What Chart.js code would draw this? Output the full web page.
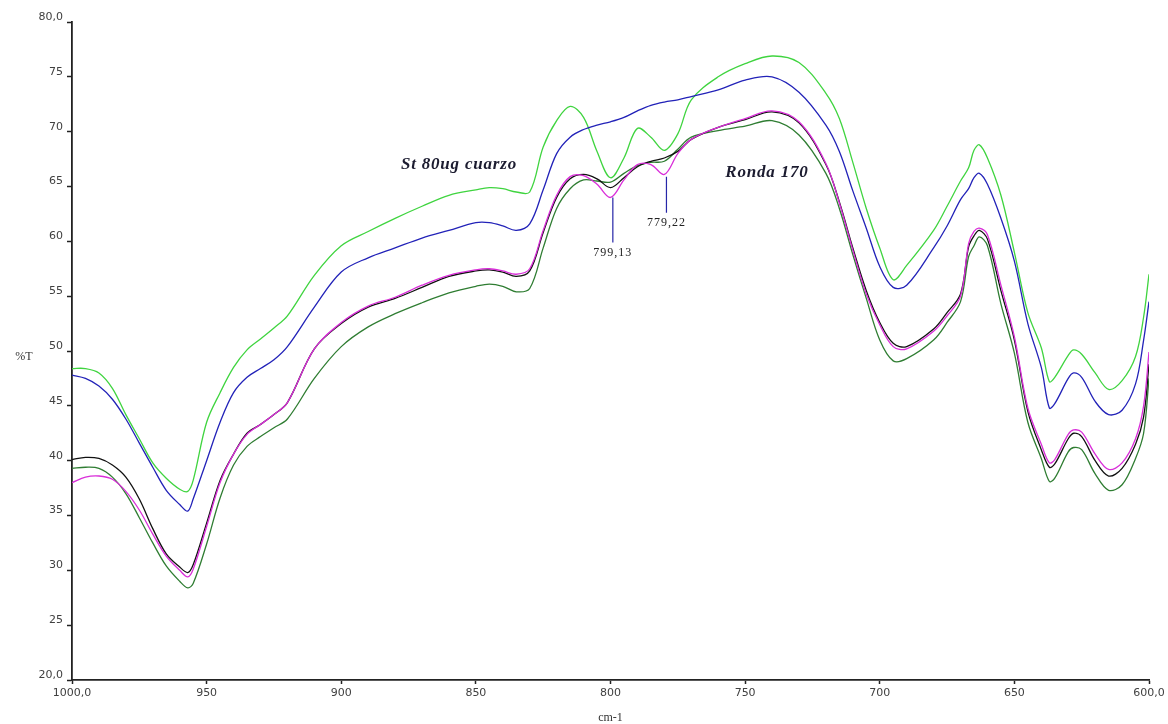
<!DOCTYPE html>
<html>
<head>
<meta charset="utf-8">
<title>%T vs cm-1</title>
<script src="https://cdn.jsdelivr.net/npm/chart.js@4.4.1/dist/chart.umd.min.js"></script>
<style>
  html, body { margin: 0; padding: 0; background: #fff; }
  #wrap { width: 1168px; height: 724px; position: relative; }
</style>
</head>
<body>
<div id="wrap"><canvas id="spectrumChart"></canvas></div>
<script>
const wavenumbers = [1000, 995, 990, 985, 980, 975, 970, 965, 960, 957, 955, 950, 945, 940, 935, 930, 925, 920, 910, 900,
  890, 880, 870, 860, 850, 845, 840, 835, 830, 825, 820, 815, 810, 805, 800, 795, 790, 785, 780, 775,
  770, 760, 750, 740, 730, 720, 715, 710, 705, 700, 695, 690, 680, 675,
  670, 667, 665, 663, 660, 655, 650, 645, 640, 637, 635, 630, 628, 625, 620, 615, 610, 605, 602, 600];

// %T series
const lightGreen = [48.4, 48.4, 48.0, 46.6, 44.2, 42.0, 39.8, 38.4, 37.4, 37.2, 38.2, 43.5, 46.2, 48.5, 50.1, 51.1, 52.1, 53.2, 56.9, 59.6,
  60.9, 62.1, 63.2, 64.2, 64.7, 64.9, 64.8, 64.5, 64.5, 68.6, 71.0, 72.3, 71.3, 68.2, 65.8, 67.6, 70.3, 69.5, 68.3, 69.8,
  72.9, 75.0, 76.2, 76.9, 76.3, 73.5, 71.2, 67.2, 63.0, 59.4, 56.5, 57.8, 61.0, 63.2,
  65.5, 66.7, 68.3, 68.8, 67.6, 64.2, 59.0, 53.5, 50.3, 47.2, 47.6, 49.6, 50.1, 49.7, 48.0, 46.5, 47.3, 49.5, 53.1, 57.0];

const blue = [47.8, 47.5, 46.8, 45.6, 43.8, 41.6, 39.4, 37.3, 36.0, 35.4, 36.5, 40.0, 43.5, 46.2, 47.6, 48.4, 49.2, 50.4, 54.0, 57.2,
  58.5, 59.4, 60.3, 61.0, 61.7, 61.7, 61.4, 61.0, 61.6, 64.7, 68.0, 69.5, 70.2, 70.6, 70.9, 71.3, 71.9, 72.4, 72.7, 72.9,
  73.2, 73.8, 74.7, 75.0, 73.6, 70.6, 68.2, 64.6, 61.2, 57.7, 55.8, 56.0, 59.4, 61.4,
  63.8, 64.8, 65.8, 66.2, 65.2, 62.1, 58.2, 52.5, 48.5, 44.8, 45.2, 47.5, 48.0, 47.6, 45.4, 44.2, 44.6, 47.0, 51.0, 54.5];

const black = [40.1, 40.3, 40.2, 39.6, 38.5, 36.5, 33.8, 31.5, 30.3, 29.8, 30.5, 34.3, 38.2, 40.6, 42.5, 43.3, 44.2, 45.3, 50.2, 52.5,
  54.0, 54.8, 55.8, 56.8, 57.3, 57.4, 57.2, 56.8, 57.3, 60.8, 64.0, 65.7, 66.1, 65.7, 64.9, 65.8, 66.8, 67.3, 67.6, 68.2,
  69.3, 70.4, 71.1, 71.8, 70.8, 67.0, 63.6, 59.4, 55.5, 52.6, 50.7, 50.4, 52.0, 53.5,
  55.2, 59.5, 60.5, 61.0, 60.2, 55.5, 51.0, 44.5, 41.0, 39.4, 39.7, 42.0, 42.5, 42.2, 40.0, 38.6, 39.3, 41.5, 44.0, 48.8];

const magenta = [38.0, 38.5, 38.6, 38.3, 37.2, 35.5, 33.3, 31.3, 30.0, 29.4, 30.1, 34.0, 38.0, 40.6, 42.4, 43.3, 44.2, 45.3, 50.2, 52.6,
  54.1, 54.9, 56.0, 56.9, 57.4, 57.5, 57.3, 57.0, 57.5, 61.0, 64.2, 65.9, 66.0, 65.2, 64.0, 65.6, 67.0, 67.0, 66.1, 68.0,
  69.3, 70.4, 71.2, 71.9, 70.9, 67.1, 63.5, 59.2, 55.2, 52.4, 50.4, 50.2, 51.8, 53.2,
  55.0, 59.8, 60.9, 61.2, 60.6, 56.0, 51.3, 44.8, 41.5, 39.8, 40.1, 42.4, 42.8, 42.6, 40.6, 39.2, 39.8, 42.0, 45.0, 49.9];

const darkGreen = [39.3, 39.4, 39.3, 38.5, 37.0, 34.8, 32.5, 30.4, 29.0, 28.4, 28.8, 32.4, 36.6, 39.6, 41.3, 42.2, 43.0, 43.8, 47.5, 50.4,
  52.2, 53.4, 54.4, 55.3, 55.9, 56.1, 55.9, 55.4, 55.7, 59.4, 63.0, 64.8, 65.6, 65.5, 65.4, 66.2, 66.9, 67.2, 67.3, 68.4,
  69.5, 70.1, 70.5, 71.0, 69.7, 66.2, 63.0, 58.8, 54.8, 51.0, 49.1, 49.3, 51.0, 52.6,
  54.5, 58.6, 59.6, 60.4, 59.6, 54.3, 49.8, 43.5, 40.2, 38.1, 38.4, 40.8, 41.2, 41.0, 38.8, 37.3, 37.8, 40.2, 42.5, 47.5];

// Axis ticks
const xTickValues = [1000, 950, 900, 850, 800, 750, 700, 650, 600];
const xTickLabels = ["1000,0", "950", "900", "850", "800", "750", "700", "650", "600,0"];
const yTickValues = [20, 25, 30, 35, 40, 45, 50, 55, 60, 65, 70, 75, 80];
const yTickLabels = ["20,0", "25", "30", "35", "40", "45", "50", "55", "60", "65", "70", "75", "80,0"];

// Marked peaks (wavenumber, marker top and bottom in %T)
const peakWavenumbers = [799.13, 779.22];
const peakTops = [64.0, 65.9];
const peakBottoms = [59.9, 62.6];
const peakTexts = ["799,13", "779,22"];

// Curve captions (wavenumber, %T)
const captionTexts = ["St 80ug cuarzo", "Ronda 170"];
const captionX = [856.3, 741.9];
const captionY = [67.0, 66.3];

function toPoints(series) {
  return wavenumbers.map((w, i) => ({ x: w, y: series[i] }));
}

function spectrum(color, series) {
  return {
    data: toPoints(series),
    borderColor: color,
    borderWidth: 1.3,
    pointRadius: 0,
    tension: 0.35,
    fill: false,
  };
}

// Peak marker lines as small two-point datasets
const peakDatasets = peakWavenumbers.map((w, i) => ({
  data: [{ x: w, y: peakTops[i] }, { x: w, y: peakBottoms[i] }],
  borderColor: "#2626a8",
  borderWidth: 1.2,
  pointRadius: 0,
  fill: false,
}));

// Draws the free texts: captions, peak values and axis titles
const textPlugin = {
  id: "spectrumTexts",
  afterDatasetsDraw(chart) {
    const ctx = chart.ctx;
    const xs = chart.scales.x;
    const ys = chart.scales.y;
    const area = chart.chartArea;
    ctx.save();

    ctx.fillStyle = "#1c1c30";
    ctx.font = "italic bold 17px 'Liberation Serif', serif";
    ctx.letterSpacing = "0.8px";
    ctx.textAlign = "center";
    ctx.textBaseline = "middle";
    captionTexts.forEach((t, i) => {
      ctx.fillText(t, xs.getPixelForValue(captionX[i]), ys.getPixelForValue(captionY[i]));
    });

    ctx.fillStyle = "#222";
    ctx.font = "12px 'Liberation Serif', serif";
    ctx.letterSpacing = "1px";
    ctx.textBaseline = "top";
    peakTexts.forEach((t, i) => {
      ctx.fillText(t, xs.getPixelForValue(peakWavenumbers[i]), ys.getPixelForValue(peakBottoms[i]) + 4);
    });

    ctx.letterSpacing = "0px";
    ctx.fillStyle = "#333";
    ctx.font = "12px 'Liberation Serif', serif";
    ctx.textBaseline = "middle";
    ctx.fillText("%T", area.left - 48, ys.getPixelForValue(49.5));
    ctx.fillText("cm-1", xs.getPixelForValue(800), area.bottom + 38);
    ctx.restore();
  },
};

const tickFont = { family: "'DejaVu Sans', sans-serif", size: 11 };

new Chart(document.getElementById("spectrumChart").getContext("2d"), {
  type: "line",
  data: {
    datasets: [
      ...peakDatasets,
      spectrum("#d92ed9", magenta),
      spectrum("#111111", black),
      spectrum("#2f7d32", darkGreen),
      spectrum("#2222b8", blue),
      spectrum("#3fd43f", lightGreen),
    ],
  },
  options: {
    responsive: true,
    maintainAspectRatio: false,
    animation: false,
    layout: { padding: { top: 22, right: 19, left: 0, bottom: 0 } },
    plugins: {
      legend: { display: false },
      tooltip: { enabled: false },
    },
    scales: {
      x: {
        type: "linear",
        reverse: true,
        min: 600,
        max: 1000,
        afterBuildTicks: (scale) => {
          scale.ticks = xTickValues.map((v) => ({ value: v }));
        },
        afterFit: (scale) => {
          scale.height = 44;
        },
        ticks: {
          autoSkip: false,
          maxRotation: 0,
          padding: 3,
          color: "#404040",
          font: tickFont,
          callback: (value) => xTickLabels[xTickValues.indexOf(value)],
        },
        grid: { drawOnChartArea: false, tickLength: 4, tickColor: "#222", tickWidth: 1.5 },
        border: { display: true, color: "#222", width: 1.8 },
      },
      y: {
        type: "linear",
        min: 20,
        max: 80,
        afterBuildTicks: (scale) => {
          scale.ticks = yTickValues.map((v) => ({ value: v }));
        },
        afterFit: (scale) => {
          scale.width = 72;
        },
        ticks: {
          padding: 4,
          labelOffset: -5,
          color: "#404040",
          font: tickFont,
          callback: (value) => yTickLabels[yTickValues.indexOf(value)],
        },
        grid: { drawOnChartArea: false, tickLength: 5, tickColor: "#222", tickWidth: 1.5 },
        border: { display: true, color: "#222", width: 1.8 },
      },
    },
  },
  plugins: [textPlugin],
});
</script>
</body>
</html>
